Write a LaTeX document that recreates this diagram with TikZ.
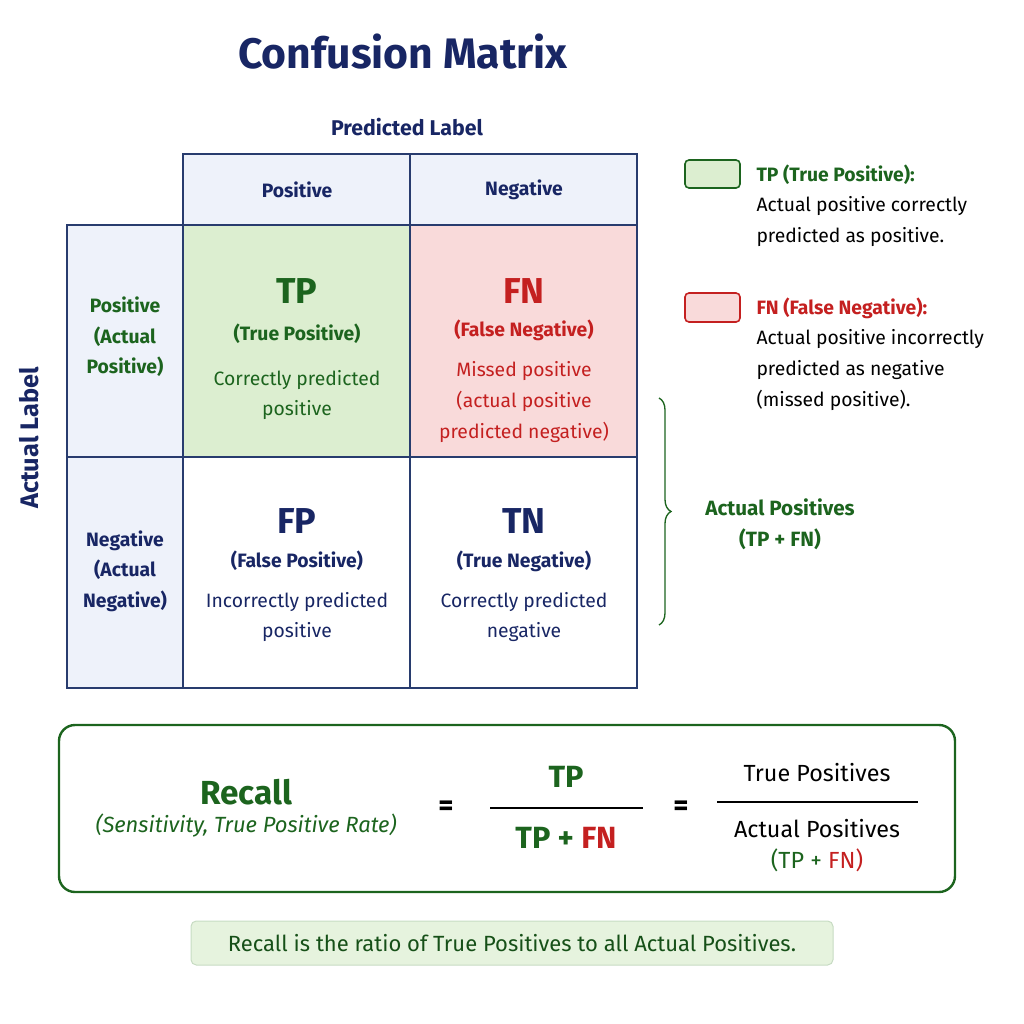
\documentclass[tikz,border=0pt]{standalone}
\usepackage{fontspec}
\setmainfont{Fira Sans}
\usetikzlibrary{decorations.pathreplacing}
\definecolor{navy}{RGB}{24,38,100}
\definecolor{dgreen}{RGB}{28,100,30}
\definecolor{dred}{RGB}{196,32,32}
\definecolor{gfill}{RGB}{220,238,208}
\definecolor{rfill}{RGB}{249,218,218}
\definecolor{hfill}{RGB}{238,242,250}
\definecolor{gline}{RGB}{40,60,110}
\tikzset{every picture/.style={line width=0.75pt}}
\tikzset{
  cell/.style={draw=gline,line width=1pt},
  txt/.style={inner sep=0.75pt,align=center,font=\fontsize{14.5}{23}\selectfont},
  hb/.style={txt,font=\fontsize{14.5}{23}\selectfont\bfseries},
  big/.style={inner sep=0.75pt,font=\fontsize{27}{30}\selectfont\bfseries},
  leg/.style={inner sep=0.75pt,anchor=north west,align=left,font=\fontsize{14.5}{23}\selectfont}
}
\begin{document}
\begin{tikzpicture}[x=0.75pt,y=0.75pt,yscale=-1,xscale=1]
\useasboundingbox (0,0) rectangle (1024,1024);

%Title
\node[inner sep=0.75pt,text=navy,font=\fontsize{32}{36}\selectfont\bfseries] (title) at (403,52) {Confusion Matrix};
\node[hb,text=navy,font=\fontsize{16}{18}\selectfont\bfseries] (pred) at (407,127) {Predicted Label};
\node[hb,text=navy,rotate=90,font=\fontsize{19}{20}\selectfont\bfseries] (act) at (29,438) {Actual Label};

%Cells
\draw[cell,fill=hfill] (183,154) rectangle (637,225);
\draw[cell] (410,154) -- (410,225);
\draw[cell,fill=hfill] (67,225) rectangle (183,688);
\draw[cell,fill=gfill] (183,225) rectangle (410,457);
\draw[cell,fill=rfill] (410,225) rectangle (637,457);
\draw[cell] (183,457) rectangle (637,688);
\draw[cell] (410,457) -- (410,688);
\draw[cell] (67,457) -- (183,457);

%Headers
\node[hb,text=navy] (hpos) at (297,190) {Positive};
\node[hb,text=navy] (hneg) at (524,190) {Negative};
\node[hb,text=dgreen] (rpos) at (125,337) {Positive\\(Actual\\Positive)};
\node[hb,text=navy] (rneg) at (125,571) {Negative\\(Actual\\Negative)};

%TP
\node[big,text=dgreen] (tp) at (297,291) {TP};
\node[hb,text=dgreen] (tpn) at (297,334) {(True Positive)};
\node[txt,text=dgreen] (tpd) at (297,395) {Correctly predicted\\positive};
%FN
\node[big,text=dred] (fn) at (524,291) {FN};
\node[hb,text=dred] (fnn) at (524,330) {(False Negative)};
\node[txt,text=dred] (fnd) at (524,402) {Missed positive\\(actual positive\\predicted negative)};
%FP
\node[big,text=navy] (fp) at (297,521) {FP};
\node[hb,text=navy] (fpn) at (297,561) {(False Positive)};
\node[txt,text=navy] (fpd) at (297,617) {Incorrectly predicted\\positive};
%TN
\node[big,text=navy] (tn) at (524,521) {TN};
\node[hb,text=navy] (tnn) at (524,561) {(True Negative)};
\node[txt,text=navy] (tnd) at (524,617) {Correctly predicted\\negative};

%Brace
\coordinate (btop) at (659,398);
\coordinate (bbot) at (659,625);
\draw[dgreen,line width=1pt,decorate,decoration={brace,amplitude=9pt}] (btop) -- (bbot);
\node[hb,text=dgreen,font=\fontsize{15.5}{23}\selectfont\bfseries] (apos) at (780,524) {Actual Positives\\(TP + FN)};

%Legend
\draw[dgreen,line width=1.2pt,fill=gfill,rounded corners=3pt] (685,160) rectangle (740,188);
\node[leg] (ltp) at (755,163) {\textcolor{dgreen}{\bfseries TP (True Positive):}\\Actual positive correctly\\predicted as positive.};
\draw[dred,line width=1.2pt,fill=rfill,rounded corners=3pt] (685,293) rectangle (740,322);
\node[leg] (lfn) at (755,296) {\textcolor{dred}{\bfseries FN (False Negative):}\\Actual positive incorrectly\\predicted as negative\\(missed positive).};

%Formula box
\draw[dgreen,line width=1.8pt,rounded corners=12pt] (59,725) rectangle (955,892);
\node[inner sep=0.75pt,text=dgreen,font=\fontsize{25}{28}\selectfont\bfseries] (rec) at (246,792) {Recall};
\node[inner sep=0.75pt,text=dgreen,font=\fontsize{16.5}{18}\selectfont\itshape] (sens) at (246,826) {(Sensitivity, True Positive Rate)};
\node[inner sep=0.75pt,font=\fontsize{22}{24}\selectfont\bfseries] (eq1) at (446,808) {=};
\node[inner sep=0.75pt,text=dgreen,font=\fontsize{23}{26}\selectfont\bfseries] (num) at (566,777) {TP};
\coordinate (l1a) at (490,808);
\coordinate (l1b) at (643,808);
\draw[line width=1.3pt] (l1a) -- (l1b);
\node[inner sep=0.75pt,font=\fontsize{23}{26}\selectfont\bfseries] (den) at (566,838) {\textcolor{dgreen}{TP +} \textcolor{dred}{FN}};
\node[inner sep=0.75pt,font=\fontsize{22}{24}\selectfont\bfseries] (eq2) at (681,808) {=};
\node[inner sep=0.75pt,font=\fontsize{17.5}{20}\selectfont] (tpos) at (817,773) {True Positives};
\coordinate (l2a) at (717,802);
\coordinate (l2b) at (918,802);
\draw[line width=1.3pt] (l2a) -- (l2b);
\node[inner sep=0.75pt,font=\fontsize{17.5}{20}\selectfont] (apos2) at (817,829) {Actual Positives};
\node[inner sep=0.75pt,font=\fontsize{17.5}{20}\selectfont] (tpfn) at (817,860) {\textcolor{dgreen}{(TP +} \textcolor{dred}{FN)}};

%Note
\node[draw=gfill!70!dgreen!60,fill=gfill!70,rounded corners=4pt,minimum width=642*0.75pt,minimum height=44*0.75pt,inner sep=0pt,font=\fontsize{16.5}{18}\selectfont,text=dgreen!80!black] (note) at (512,943) {Recall is the ratio of True Positives to all Actual Positives.};
\end{tikzpicture}
\end{document}
